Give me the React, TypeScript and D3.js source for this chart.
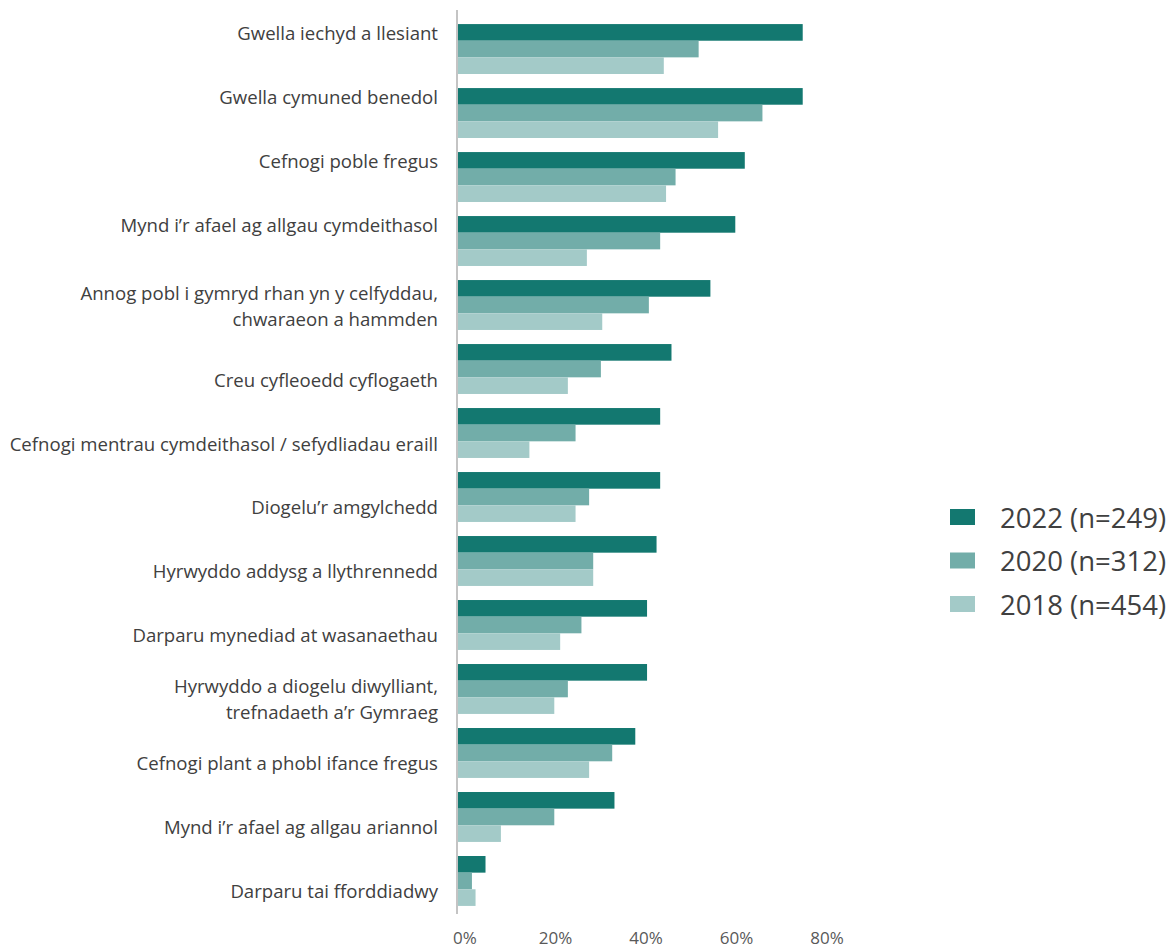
import * as d3 from 'd3';

// Categories (top to bottom); "\n" marks a wrapped label
const categories = [
  'Gwella iechyd a llesiant',
  'Gwella cymuned benedol',
  'Cefnogi poble fregus',
  'Mynd i’r afael ag allgau cymdeithasol',
  'Annog pobl i gymryd rhan yn y celfyddau,\nchwaraeon a hammden',
  'Creu cyfleoedd cyflogaeth',
  'Cefnogi mentrau cymdeithasol / sefydliadau eraill',
  'Diogelu’r amgylchedd',
  'Hyrwyddo addysg a llythrennedd',
  'Darparu mynediad at wasanaethau',
  'Hyrwyddo a diogelu diwylliant,\ntrefnadaeth a’r Gymraeg',
  'Cefnogi plant a phobl ifance fregus',
  'Mynd i’r afael ag allgau ariannol',
  'Darparu tai fforddiadwy',
];

const seriesNames = ['2022 (n=249)', '2020 (n=312)', '2018 (n=454)'];
const seriesKeys = ['2022', '2020', '2018'];

const values2022 = [76.4, 76.4, 63.6, 61.5, 56.0, 47.4, 44.9, 44.9, 44.1, 42.0, 42.0, 39.4, 34.8, 6.3];
const values2020 = [53.4, 67.5, 48.3, 44.9, 42.4, 31.8, 26.2, 29.2, 30.1, 27.5, 24.5, 34.3, 21.5, 3.3];
const values2018 = [45.7, 57.7, 46.2, 28.7, 32.1, 24.5, 16.0, 26.2, 30.1, 22.8, 21.5, 29.2, 9.7, 4.1];

const tickValues = [0, 20, 40, 60, 80];

const colors = ['#137870', '#72ada9', '#a3cac8'];

const W = 1175;
const H = 948;
const FONT = '"Open Sans", Lato, sans-serif';

export default function App() {
  const series = [values2022, values2020, values2018];

  const x = d3.scaleLinear().domain([0, 80]).range([457, 819]);
  const y = d3
    .scaleBand<string>()
    .domain(categories)
    .range([10, 920])
    .paddingInner(0.22)
    .paddingOuter(0.22);
  const ySub = d3.scaleBand<string>().domain(seriesKeys).range([0, y.bandwidth()]);

  // label anchor: the reference places the top labels on the first bar,
  // the rest slightly below the group centre
  const labelY = (i: number) => {
    const top = y(categories[i]) ?? 0;
    if (i < 4) return top + ySub.bandwidth() / 2;
    if (i === 4) return top + y.bandwidth() / 2;
    return top + y.bandwidth() / 2 + 10;
  };

  const [yStart, yEnd] = y.range();

  return (
    <svg
      width={W}
      height={H}
      style={{ position: 'absolute', left: 0, top: 0, background: '#fff' }}
      fontFamily={FONT}
    >
      {categories.map((cat, i) => (
        <g key={cat} transform={`translate(0,${y(cat)})`}>
          {series.map((vals, s) => (
            <rect
              key={seriesKeys[s]}
              x={x(0)}
              y={ySub(seriesKeys[s])}
              width={x(vals[i]) - x(0)}
              height={ySub.bandwidth()}
              fill={colors[s]}
            />
          ))}
        </g>
      ))}

      {/* axis line */}
      <line x1={x(0)} x2={x(0)} y1={yStart} y2={yEnd - 6} stroke="#c4c4c4" strokeWidth={2} />

      {/* category labels */}
      {categories.map((cat, i) => {
        const lines = cat.split('\n');
        const lh = 26;
        const cy = labelY(i);
        return (
          <text key={cat} x={438} textAnchor="end" fill="#404040" fontSize={18.6}>
            {lines.map((ln, k) => (
              <tspan
                key={k}
                x={438}
                y={cy + (k - (lines.length - 1) / 2) * lh}
                dominantBaseline="central"
              >
                {ln}
              </tspan>
            ))}
          </text>
        );
      })}

      {/* x tick labels */}
      {tickValues.map((t) => (
        <text
          key={t}
          x={x(t) + 8}
          y={937}
          textAnchor="middle"
          dominantBaseline="central"
          fill="#595959"
          fontSize={17}
        >
          {`${t}%`}
        </text>
      ))}

      {/* legend */}
      {seriesNames.map((name, s) => {
        const ly = 517 + s * 43.5;
        return (
          <g key={name}>
            <rect x={950} y={ly - 8} width={25} height={16} fill={colors[s]} />
            <text x={1000} y={ly} dominantBaseline="central" fill="#404040" fontSize={27.5}>
              {name}
            </text>
          </g>
        );
      })}
    </svg>
  );
}
